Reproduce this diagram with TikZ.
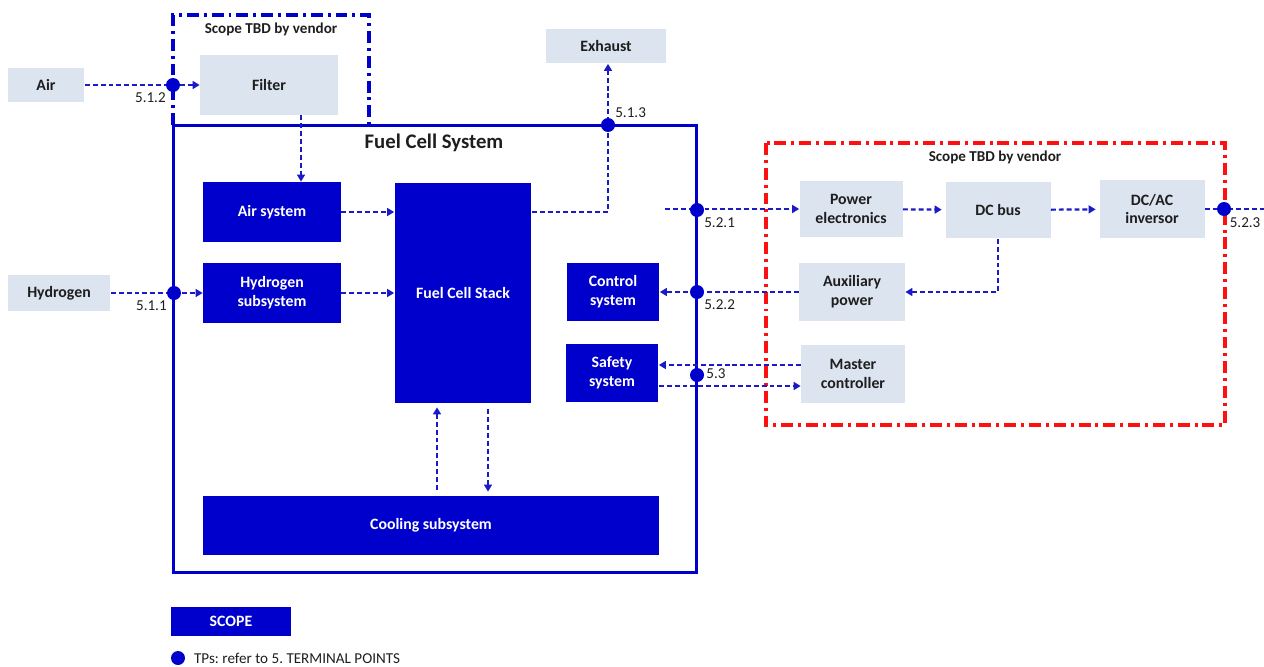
\documentclass[tikz,border=0pt]{standalone}
\usepackage{fontspec}
\setmainfont{Carlito}
\usepackage{xcolor}
\usepackage{tikz}
\usetikzlibrary{arrows.meta}
\frenchspacing
\definecolor{scopecolor}{HTML}{0000CC}
\definecolor{linkcolor}{HTML}{1A1AC8}
\definecolor{vendorcolor}{HTML}{DCE4F0}
\definecolor{redcolor}{HTML}{FF1010}
\definecolor{inkcolor}{HTML}{1E1E1E}

\begin{document}
\begin{tikzpicture}[x=0.02cm, y=-0.02cm,
  scopebox/.style={rectangle, fill=scopecolor, text=white, align=center, font=\fontsize{9pt}{10.6pt}\selectfont\bfseries},
  extbox/.style={rectangle, fill=vendorcolor, text=inkcolor, align=center, font=\fontsize{9pt}{10.6pt}\selectfont\bfseries},
  flow/.style={draw=linkcolor, line width=1.25pt, dash pattern=on 2.8pt off 1.7pt, -{Triangle[length=4pt,width=4.5pt]}},
  dashline/.style={draw=linkcolor, line width=1.25pt, dash pattern=on 2.8pt off 1.7pt},
  tp/.style={circle, fill=scopecolor, inner sep=0pt, minimum size=0.28cm},
  tplabel/.style={font=\fontsize{8.6pt}{10pt}\selectfont, text=inkcolor, inner sep=1pt},
  scopetitle/.style={font=\fontsize{8.6pt}{10pt}\selectfont\bfseries, text=inkcolor}]%
\useasboundingbox (0,0) rectangle (1264,666);%
% vendor scope frames
\draw[scopecolor, line width=1.9pt, dash pattern=on 6.8pt off 2.8pt on 1.7pt off 2.8pt] (173,125) -- (173,15) -- (369,15) -- (369,125);%
\draw[redcolor, line width=1.9pt, dash pattern=on 6.8pt off 2.8pt on 1.7pt off 2.8pt] (766,143) rectangle (1225,425);%
\node[scopetitle] (filterscope) at (271,29) {Scope TBD by vendor};%
\node[scopetitle] (elecscope) at (995,157) {Scope TBD by vendor};%
% fuel cell system frame
\node[draw=scopecolor, line width=1.7pt, rectangle, minimum width=10.48cm, minimum height=8.96cm] (fcs) at (435,349) {};%
\node[font=\fontsize{11.8pt}{13pt}\selectfont\bfseries, text=inkcolor] (fcstitle) at (434,143) {Fuel Cell System};%
% outside boxes
\node[extbox, minimum width=1.54cm, minimum height=0.7cm] (air) at (46,85) {Air};%
\node[extbox, minimum width=2.76cm, minimum height=1.2cm] (filter) at (269,85) {Filter};%
\node[extbox, minimum width=2.42cm, minimum height=0.7cm] (exhaust) at (606,46) {Exhaust};%
\node[extbox, minimum width=2.06cm, minimum height=0.72cm] (hydrogen) at (59,293) {Hydrogen};%
% fuel cell system boxes
\node[scopebox, minimum width=2.76cm, minimum height=1.2cm] (airsys) at (272,212) {Air system};%
\node[scopebox, minimum width=2.76cm, minimum height=1.2cm] (h2sys) at (272,293) {Hydrogen\\subsystem};%
\node[scopebox, minimum width=2.74cm, minimum height=4.42cm] (stack) at (463,293) {Fuel Cell Stack};%
\node[scopebox, minimum width=1.86cm, minimum height=1.18cm] (ctrl) at (613,292) {Control\\system};%
\node[scopebox, minimum width=1.86cm, minimum height=1.18cm] (safety) at (612,373) {Safety\\system};%
\node[scopebox, minimum width=9.14cm, minimum height=1.18cm] (cooling) at (431,525) {Cooling subsystem};%
% electrical boxes
\node[extbox, minimum width=2.06cm, minimum height=1.14cm] (pe) at (851,209) {Power\\electronics};%
\node[extbox, minimum width=2.1cm, minimum height=1.14cm] (dcbus) at (998,210) {DC bus};%
\node[extbox, minimum width=2.1cm, minimum height=1.18cm] (dcac) at (1152,209) {DC/AC\\inversor};%
\node[extbox, minimum width=2.12cm, minimum height=1.18cm] (aux) at (852,292) {Auxiliary\\power};%
\node[extbox, minimum width=2.08cm, minimum height=1.18cm] (master) at (853,374) {Master\\controller};%
% connectors
\draw[flow] (air) -- (filter);%
\draw[flow] (filter.south -| 301,0) -- (airsys.north -| 301,0);%
\draw[flow] (airsys.east) -- (stack.west |- airsys.east);%
\draw[flow] (hydrogen) -- (h2sys);%
\draw[flow] (h2sys) -- (stack.west |- h2sys);%
\draw[flow] (stack.east |- airsys.east) -| (exhaust.south -| 608,0);%
\draw[flow, shorten >=2pt, shorten <=3pt] (cooling.north -| 437,0) -- (stack.south -| 437,0);%
\draw[flow, shorten >=2pt, shorten <=3pt] (stack.south -| 488,0) -- (cooling.north -| 488,0);%
\coordinate (pein) at (665,209);%
\coordinate (gridout) at (1264,209);%
\draw[flow] (pein) -- (pe.west);%
\draw[flow, shorten >=2pt] (pe) -- (dcbus);%
\draw[flow, shorten >=2pt] (dcbus) -- (dcac);%
\draw[dashline] (dcac.east) -- (gridout);%
\draw[flow] (dcbus.south) |- (aux.east);%
\draw[flow] (aux.west) -- (ctrl.east);%
\draw[flow] ([yshift=0.18cm]master.west) -- ([yshift=0.18cm]master.west -| safety.east);%
\draw[flow] ([yshift=-0.26cm]safety.east) -- ([yshift=-0.26cm]safety.east -| master.west);%
% terminal points
\node[tp, label={[tplabel, anchor=north east]-135:5.1.2}] (tp512) at (173,85) {};%
\node[tp, label={[tplabel, anchor=north east]-135:5.1.1}] (tp511) at (174,293) {};%
\node[tp, label={[tplabel, anchor=south west]45:5.1.3}] (tp513) at (608,125) {};%
\node[tp, label={[tplabel, anchor=north west]-45:5.2.1}] (tp521) at (697,210) {};%
\node[tp, label={[tplabel, anchor=north west]-45:5.2.2}] (tp522) at (697,292) {};%
\node[tp, label={[tplabel, anchor=west]10:5.3}] (tp53) at (697,375) {};%
\node[tp, label={[tplabel, anchor=north west]-60:5.2.3}] (tp523) at (1224,209) {};%
% legend
\node[scopebox, minimum width=2.42cm, minimum height=0.58cm] (legscope) at (231,621) {SCOPE};%
\node[tp] (legtp) at (178,658) {};%
\node[tplabel, anchor=west] (legtext) at (192,658) {TPs: refer to 5. TERMINAL POINTS};%
\end{tikzpicture}
\end{document}
